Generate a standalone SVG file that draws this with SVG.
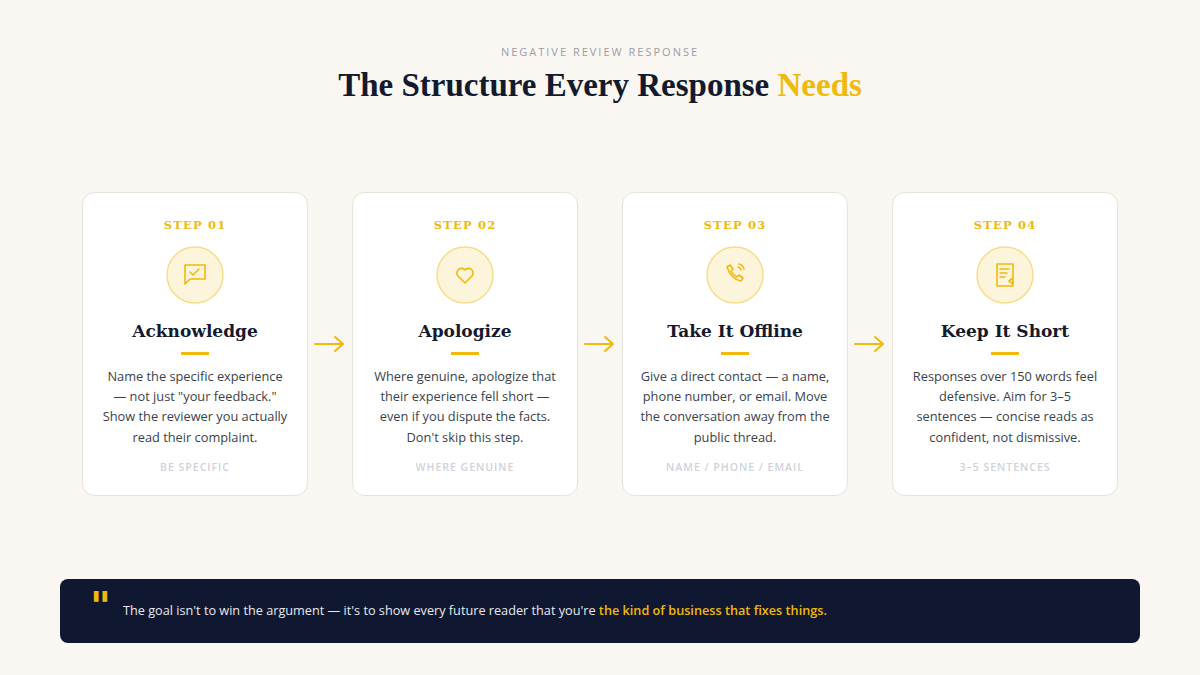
<svg xmlns="http://www.w3.org/2000/svg" width="1200" height="675" viewBox="0 0 1200 675">
<style>
.card{fill:#fff;stroke:#e6e3dc;stroke-width:1}
.step{font-family:"DejaVu Serif",serif;font-weight:bold;font-size:11.5px;fill:#f0b90b;letter-spacing:1.2px;text-anchor:middle}
.ic{fill:#fdf4dc;stroke:#f8dc8a;stroke-width:1.5}
.ig{fill:none;stroke:#f0b90b;stroke-width:1.6;stroke-linecap:round;stroke-linejoin:round}
.ttl{font-family:"DejaVu Serif",serif;font-weight:bold;font-size:17px;fill:#141a2e;text-anchor:middle}
.bar{fill:#f0b90b}
.body{font-family:"Open Sans",sans-serif;font-size:12.8px;fill:#3a3f4c;text-anchor:middle}
.tag{font-family:"Open Sans",sans-serif;font-weight:600;font-size:10.5px;fill:#cfd2da;letter-spacing:1px;text-anchor:middle}
.arr{fill:none;stroke:#f0b90b;stroke-width:2;stroke-linecap:round;stroke-linejoin:round}
</style>
<rect width="1200" height="675" fill="#faf7f2"/>
<text x="600" y="56" text-anchor="middle" font-family="Open Sans,sans-serif" font-size="11" letter-spacing="2" fill="#9a9ca3">NEGATIVE REVIEW RESPONSE</text>
<text x="600" y="96" text-anchor="middle" font-family="Liberation Serif,serif" font-weight="bold" font-size="33" fill="#141a2e">The Structure Every Response <tspan fill="#f0b90b">Needs</tspan></text>

<g id="connectors">
<path class="arr" d="M315 344H343M335 337L343 344L335 351"/>
<path class="arr" d="M585 344H613M605 337L613 344L605 351"/>
<path class="arr" d="M855 344H883M875 337L883 344L875 351"/>
</g>

<g id="step1">
<rect class="card" x="82.5" y="192.5" width="225" height="303" rx="12"/>
<text class="step" x="195" y="229">STEP 01</text>
<circle class="ic" cx="195" cy="275" r="28"/>
<path class="ig" d="M185 265h20v14h-15l-5 5z M190 272l3 3 6-6"/>
<text class="ttl" x="195" y="337">Acknowledge</text>
<rect class="bar" x="181" y="352" width="28" height="3"/>
<text class="body" x="195" y="381">Name the specific experience</text>
<text class="body" x="195" y="401">— not just "your feedback."</text>
<text class="body" x="195" y="421">Show the reviewer you actually</text>
<text class="body" x="195" y="442">read their complaint.</text>
<text class="tag" x="195" y="471">BE SPECIFIC</text>
</g>

<g id="step2">
<rect class="card" x="352.5" y="192.5" width="225" height="303" rx="12"/>
<text class="step" x="465" y="229">STEP 02</text>
<circle class="ic" cx="465" cy="275" r="28"/>
<path class="ig" d="M465 283l-7-7a4 4 0 0 1 7-6a4 4 0 0 1 7 6z"/>
<text class="ttl" x="465" y="337">Apologize</text>
<rect class="bar" x="451" y="352" width="28" height="3"/>
<text class="body" x="465" y="381">Where genuine, apologize that</text>
<text class="body" x="465" y="401">their experience fell short —</text>
<text class="body" x="465" y="421">even if you dispute the facts.</text>
<text class="body" x="465" y="442">Don't skip this step.</text>
<text class="tag" x="465" y="471">WHERE GENUINE</text>
</g>

<g id="step3">
<rect class="card" x="622.5" y="192.5" width="225" height="303" rx="12"/>
<text class="step" x="735" y="229">STEP 03</text>
<circle class="ic" cx="735" cy="275" r="28"/>
<path class="ig" d="M727 267l3-2 3 4-2 2q2 4 6 6l2-2 4 3-2 3q-10-2-14-14z M738 267a4 4 0 0 1 3 3 M739 264a7 7 0 0 1 5 5"/>
<text class="ttl" x="735" y="337">Take It Offline</text>
<rect class="bar" x="721" y="352" width="28" height="3"/>
<text class="body" x="735" y="381">Give a direct contact — a name,</text>
<text class="body" x="735" y="401">phone number, or email. Move</text>
<text class="body" x="735" y="421">the conversation away from the</text>
<text class="body" x="735" y="442">public thread.</text>
<text class="tag" x="735" y="471">NAME / PHONE / EMAIL</text>
</g>

<g id="step4">
<rect class="card" x="892.5" y="192.5" width="225" height="303" rx="12"/>
<text class="step" x="1005" y="229">STEP 04</text>
<circle class="ic" cx="1005" cy="275" r="28"/>
<path class="ig" d="M997 264h16v22h-16z M1000 269h9M1000 273h7M1000 277h5 M1013 278l-4 3 4 3"/>
<text class="ttl" x="1005" y="337">Keep It Short</text>
<rect class="bar" x="991" y="352" width="28" height="3"/>
<text class="body" x="1005" y="381">Responses over 150 words feel</text>
<text class="body" x="1005" y="401">defensive. Aim for 3–5</text>
<text class="body" x="1005" y="421">sentences — concise reads as</text>
<text class="body" x="1005" y="442">confident, not dismissive.</text>
<text class="tag" x="1005" y="471">3–5 SENTENCES</text>
</g>

<g id="quote">
<rect x="60" y="579" width="1080" height="64" rx="8" fill="#101831"/>
<text x="90" y="620" font-family="DejaVu Serif,serif" font-weight="bold" font-size="40" fill="#f0b90b">"</text>
<text x="123" y="615" font-family="Open Sans,sans-serif" font-size="12.7" fill="#e8e9ee">The goal isn't to win the argument — it's to show every future reader that you're <tspan fill="#f0b90b" font-weight="600">the kind of business that fixes things.</tspan></text>
</g>
</svg>
